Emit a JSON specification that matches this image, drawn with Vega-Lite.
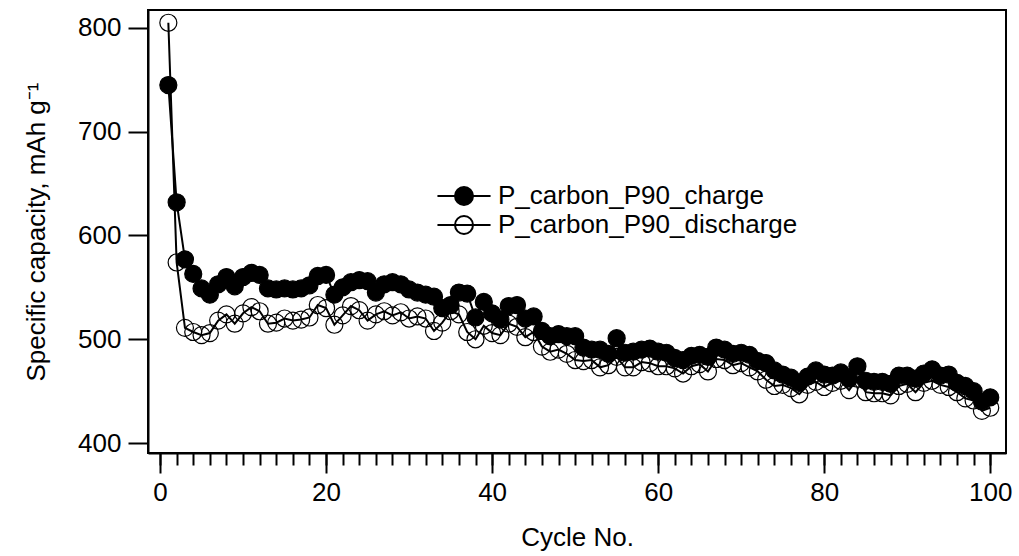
{
  "$schema": "https://vega.github.io/schema/vega-lite/v6.json",
  "width": 858,
  "height": 443,
  "autosize": {"type": "none"},
  "padding": {"left": 148, "top": 10, "right": 13, "bottom": 103},
  "background": "white",
  "config": {
    "view": {"stroke": "black", "strokeWidth": 2},
    "font": "Liberation Sans",
    "axis": {"labelFont": "Liberation Sans", "titleFont": "Liberation Sans", "labelFontSize": 26, "titleFontSize": 26, "labelColor": "black", "titleColor": "black", "titleFontWeight": "normal", "domainColor": "black", "domainWidth": 2, "tickColor": "black", "tickWidth": 2, "grid": false}
  },
  "datasets": {
    "cap": [
      {"cycle":1,"series":"P_carbon_P90_discharge","cap":805},{"cycle":2,"series":"P_carbon_P90_discharge","cap":574},{"cycle":3,"series":"P_carbon_P90_discharge","cap":511},{"cycle":4,"series":"P_carbon_P90_discharge","cap":507},{"cycle":5,"series":"P_carbon_P90_discharge","cap":504},{"cycle":6,"series":"P_carbon_P90_discharge","cap":506},{"cycle":7,"series":"P_carbon_P90_discharge","cap":518},{"cycle":8,"series":"P_carbon_P90_discharge","cap":524},{"cycle":9,"series":"P_carbon_P90_discharge","cap":515},{"cycle":10,"series":"P_carbon_P90_discharge","cap":525},
      {"cycle":11,"series":"P_carbon_P90_discharge","cap":531},{"cycle":12,"series":"P_carbon_P90_discharge","cap":527},{"cycle":13,"series":"P_carbon_P90_discharge","cap":515},{"cycle":14,"series":"P_carbon_P90_discharge","cap":516},{"cycle":15,"series":"P_carbon_P90_discharge","cap":520},{"cycle":16,"series":"P_carbon_P90_discharge","cap":518},{"cycle":17,"series":"P_carbon_P90_discharge","cap":519},{"cycle":18,"series":"P_carbon_P90_discharge","cap":521},{"cycle":19,"series":"P_carbon_P90_discharge","cap":533},{"cycle":20,"series":"P_carbon_P90_discharge","cap":530},
      {"cycle":21,"series":"P_carbon_P90_discharge","cap":514},{"cycle":22,"series":"P_carbon_P90_discharge","cap":523},{"cycle":23,"series":"P_carbon_P90_discharge","cap":532},{"cycle":24,"series":"P_carbon_P90_discharge","cap":528},{"cycle":25,"series":"P_carbon_P90_discharge","cap":518},{"cycle":26,"series":"P_carbon_P90_discharge","cap":524},{"cycle":27,"series":"P_carbon_P90_discharge","cap":527},{"cycle":28,"series":"P_carbon_P90_discharge","cap":523},{"cycle":29,"series":"P_carbon_P90_discharge","cap":526},{"cycle":30,"series":"P_carbon_P90_discharge","cap":520},
      {"cycle":31,"series":"P_carbon_P90_discharge","cap":522},{"cycle":32,"series":"P_carbon_P90_discharge","cap":520},{"cycle":33,"series":"P_carbon_P90_discharge","cap":508},{"cycle":34,"series":"P_carbon_P90_discharge","cap":516},{"cycle":35,"series":"P_carbon_P90_discharge","cap":527},{"cycle":36,"series":"P_carbon_P90_discharge","cap":524},{"cycle":37,"series":"P_carbon_P90_discharge","cap":507},{"cycle":38,"series":"P_carbon_P90_discharge","cap":500},{"cycle":39,"series":"P_carbon_P90_discharge","cap":513},{"cycle":40,"series":"P_carbon_P90_discharge","cap":506},
      {"cycle":41,"series":"P_carbon_P90_discharge","cap":504},{"cycle":42,"series":"P_carbon_P90_discharge","cap":515},{"cycle":43,"series":"P_carbon_P90_discharge","cap":512},{"cycle":44,"series":"P_carbon_P90_discharge","cap":502},{"cycle":45,"series":"P_carbon_P90_discharge","cap":507},{"cycle":46,"series":"P_carbon_P90_discharge","cap":493},{"cycle":47,"series":"P_carbon_P90_discharge","cap":488},{"cycle":48,"series":"P_carbon_P90_discharge","cap":490},{"cycle":49,"series":"P_carbon_P90_discharge","cap":486},{"cycle":50,"series":"P_carbon_P90_discharge","cap":480},
      {"cycle":51,"series":"P_carbon_P90_discharge","cap":479},{"cycle":52,"series":"P_carbon_P90_discharge","cap":480},{"cycle":53,"series":"P_carbon_P90_discharge","cap":473},{"cycle":54,"series":"P_carbon_P90_discharge","cap":475},{"cycle":55,"series":"P_carbon_P90_discharge","cap":483},{"cycle":56,"series":"P_carbon_P90_discharge","cap":473},{"cycle":57,"series":"P_carbon_P90_discharge","cap":473},{"cycle":58,"series":"P_carbon_P90_discharge","cap":478},{"cycle":59,"series":"P_carbon_P90_discharge","cap":477},{"cycle":60,"series":"P_carbon_P90_discharge","cap":474},
      {"cycle":61,"series":"P_carbon_P90_discharge","cap":474},{"cycle":62,"series":"P_carbon_P90_discharge","cap":472},{"cycle":63,"series":"P_carbon_P90_discharge","cap":467},{"cycle":64,"series":"P_carbon_P90_discharge","cap":474},{"cycle":65,"series":"P_carbon_P90_discharge","cap":476},{"cycle":66,"series":"P_carbon_P90_discharge","cap":469},{"cycle":67,"series":"P_carbon_P90_discharge","cap":481},{"cycle":68,"series":"P_carbon_P90_discharge","cap":480},{"cycle":69,"series":"P_carbon_P90_discharge","cap":475},{"cycle":70,"series":"P_carbon_P90_discharge","cap":477},
      {"cycle":71,"series":"P_carbon_P90_discharge","cap":473},{"cycle":72,"series":"P_carbon_P90_discharge","cap":469},{"cycle":73,"series":"P_carbon_P90_discharge","cap":461},{"cycle":74,"series":"P_carbon_P90_discharge","cap":455},{"cycle":75,"series":"P_carbon_P90_discharge","cap":456},{"cycle":76,"series":"P_carbon_P90_discharge","cap":453},{"cycle":77,"series":"P_carbon_P90_discharge","cap":447},{"cycle":78,"series":"P_carbon_P90_discharge","cap":456},{"cycle":79,"series":"P_carbon_P90_discharge","cap":459},{"cycle":80,"series":"P_carbon_P90_discharge","cap":454},
      {"cycle":81,"series":"P_carbon_P90_discharge","cap":458},{"cycle":82,"series":"P_carbon_P90_discharge","cap":460},{"cycle":83,"series":"P_carbon_P90_discharge","cap":451},{"cycle":84,"series":"P_carbon_P90_discharge","cap":462},{"cycle":85,"series":"P_carbon_P90_discharge","cap":449},{"cycle":86,"series":"P_carbon_P90_discharge","cap":448},{"cycle":87,"series":"P_carbon_P90_discharge","cap":448},{"cycle":88,"series":"P_carbon_P90_discharge","cap":446},{"cycle":89,"series":"P_carbon_P90_discharge","cap":455},{"cycle":90,"series":"P_carbon_P90_discharge","cap":457},
      {"cycle":91,"series":"P_carbon_P90_discharge","cap":449},{"cycle":92,"series":"P_carbon_P90_discharge","cap":458},{"cycle":93,"series":"P_carbon_P90_discharge","cap":460},{"cycle":94,"series":"P_carbon_P90_discharge","cap":456},{"cycle":95,"series":"P_carbon_P90_discharge","cap":454},{"cycle":96,"series":"P_carbon_P90_discharge","cap":449},{"cycle":97,"series":"P_carbon_P90_discharge","cap":443},{"cycle":98,"series":"P_carbon_P90_discharge","cap":441},{"cycle":99,"series":"P_carbon_P90_discharge","cap":431},{"cycle":100,"series":"P_carbon_P90_discharge","cap":434},
      {"cycle":1,"series":"P_carbon_P90_charge","cap":745},{"cycle":2,"series":"P_carbon_P90_charge","cap":632},{"cycle":3,"series":"P_carbon_P90_charge","cap":577},{"cycle":4,"series":"P_carbon_P90_charge","cap":563},{"cycle":5,"series":"P_carbon_P90_charge","cap":549},{"cycle":6,"series":"P_carbon_P90_charge","cap":543},{"cycle":7,"series":"P_carbon_P90_charge","cap":553},{"cycle":8,"series":"P_carbon_P90_charge","cap":560},{"cycle":9,"series":"P_carbon_P90_charge","cap":551},{"cycle":10,"series":"P_carbon_P90_charge","cap":560},
      {"cycle":11,"series":"P_carbon_P90_charge","cap":564},{"cycle":12,"series":"P_carbon_P90_charge","cap":562},{"cycle":13,"series":"P_carbon_P90_charge","cap":549},{"cycle":14,"series":"P_carbon_P90_charge","cap":548},{"cycle":15,"series":"P_carbon_P90_charge","cap":549},{"cycle":16,"series":"P_carbon_P90_charge","cap":548},{"cycle":17,"series":"P_carbon_P90_charge","cap":549},{"cycle":18,"series":"P_carbon_P90_charge","cap":552},{"cycle":19,"series":"P_carbon_P90_charge","cap":561},{"cycle":20,"series":"P_carbon_P90_charge","cap":562},
      {"cycle":21,"series":"P_carbon_P90_charge","cap":543},{"cycle":22,"series":"P_carbon_P90_charge","cap":550},{"cycle":23,"series":"P_carbon_P90_charge","cap":555},{"cycle":24,"series":"P_carbon_P90_charge","cap":557},{"cycle":25,"series":"P_carbon_P90_charge","cap":556},{"cycle":26,"series":"P_carbon_P90_charge","cap":545},{"cycle":27,"series":"P_carbon_P90_charge","cap":553},{"cycle":28,"series":"P_carbon_P90_charge","cap":555},{"cycle":29,"series":"P_carbon_P90_charge","cap":553},{"cycle":30,"series":"P_carbon_P90_charge","cap":548},
      {"cycle":31,"series":"P_carbon_P90_charge","cap":545},{"cycle":32,"series":"P_carbon_P90_charge","cap":543},{"cycle":33,"series":"P_carbon_P90_charge","cap":541},{"cycle":34,"series":"P_carbon_P90_charge","cap":530},{"cycle":35,"series":"P_carbon_P90_charge","cap":533},{"cycle":36,"series":"P_carbon_P90_charge","cap":545},{"cycle":37,"series":"P_carbon_P90_charge","cap":544},{"cycle":38,"series":"P_carbon_P90_charge","cap":521},{"cycle":39,"series":"P_carbon_P90_charge","cap":536},{"cycle":40,"series":"P_carbon_P90_charge","cap":525},
      {"cycle":41,"series":"P_carbon_P90_charge","cap":519},{"cycle":42,"series":"P_carbon_P90_charge","cap":532},{"cycle":43,"series":"P_carbon_P90_charge","cap":533},{"cycle":44,"series":"P_carbon_P90_charge","cap":520},{"cycle":45,"series":"P_carbon_P90_charge","cap":522},{"cycle":46,"series":"P_carbon_P90_charge","cap":508},{"cycle":47,"series":"P_carbon_P90_charge","cap":503},{"cycle":48,"series":"P_carbon_P90_charge","cap":505},{"cycle":49,"series":"P_carbon_P90_charge","cap":503},{"cycle":50,"series":"P_carbon_P90_charge","cap":503},
      {"cycle":51,"series":"P_carbon_P90_charge","cap":492},{"cycle":52,"series":"P_carbon_P90_charge","cap":490},{"cycle":53,"series":"P_carbon_P90_charge","cap":490},{"cycle":54,"series":"P_carbon_P90_charge","cap":486},{"cycle":55,"series":"P_carbon_P90_charge","cap":501},{"cycle":56,"series":"P_carbon_P90_charge","cap":487},{"cycle":57,"series":"P_carbon_P90_charge","cap":488},{"cycle":58,"series":"P_carbon_P90_charge","cap":490},{"cycle":59,"series":"P_carbon_P90_charge","cap":491},{"cycle":60,"series":"P_carbon_P90_charge","cap":488},
      {"cycle":61,"series":"P_carbon_P90_charge","cap":487},{"cycle":62,"series":"P_carbon_P90_charge","cap":482},{"cycle":63,"series":"P_carbon_P90_charge","cap":480},{"cycle":64,"series":"P_carbon_P90_charge","cap":484},{"cycle":65,"series":"P_carbon_P90_charge","cap":485},{"cycle":66,"series":"P_carbon_P90_charge","cap":483},{"cycle":67,"series":"P_carbon_P90_charge","cap":492},{"cycle":68,"series":"P_carbon_P90_charge","cap":490},{"cycle":69,"series":"P_carbon_P90_charge","cap":486},{"cycle":70,"series":"P_carbon_P90_charge","cap":487},
      {"cycle":71,"series":"P_carbon_P90_charge","cap":485},{"cycle":72,"series":"P_carbon_P90_charge","cap":479},{"cycle":73,"series":"P_carbon_P90_charge","cap":477},{"cycle":74,"series":"P_carbon_P90_charge","cap":470},{"cycle":75,"series":"P_carbon_P90_charge","cap":466},{"cycle":76,"series":"P_carbon_P90_charge","cap":463},{"cycle":77,"series":"P_carbon_P90_charge","cap":458},{"cycle":78,"series":"P_carbon_P90_charge","cap":464},{"cycle":79,"series":"P_carbon_P90_charge","cap":470},{"cycle":80,"series":"P_carbon_P90_charge","cap":466},
      {"cycle":81,"series":"P_carbon_P90_charge","cap":465},{"cycle":82,"series":"P_carbon_P90_charge","cap":468},{"cycle":83,"series":"P_carbon_P90_charge","cap":462},{"cycle":84,"series":"P_carbon_P90_charge","cap":474},{"cycle":85,"series":"P_carbon_P90_charge","cap":460},{"cycle":86,"series":"P_carbon_P90_charge","cap":459},{"cycle":87,"series":"P_carbon_P90_charge","cap":459},{"cycle":88,"series":"P_carbon_P90_charge","cap":457},{"cycle":89,"series":"P_carbon_P90_charge","cap":465},{"cycle":90,"series":"P_carbon_P90_charge","cap":465},
      {"cycle":91,"series":"P_carbon_P90_charge","cap":462},{"cycle":92,"series":"P_carbon_P90_charge","cap":467},{"cycle":93,"series":"P_carbon_P90_charge","cap":471},{"cycle":94,"series":"P_carbon_P90_charge","cap":465},{"cycle":95,"series":"P_carbon_P90_charge","cap":466},{"cycle":96,"series":"P_carbon_P90_charge","cap":458},{"cycle":97,"series":"P_carbon_P90_charge","cap":455},{"cycle":98,"series":"P_carbon_P90_charge","cap":450},{"cycle":99,"series":"P_carbon_P90_charge","cap":440},{"cycle":100,"series":"P_carbon_P90_charge","cap":444}
    ]
  },
  "data": {"name": "cap"},
  "layer": [
    {
      "mark": {"type": "line", "stroke": "black", "strokeWidth": 2},
      "encoding": {
        "x": {"field": "cycle", "type": "quantitative", "scale": {"domain": [-1.45, 101.9], "nice": false, "zero": false},
          "axis": {"orient": "bottom", "values": [0, 20, 40, 60, 80, 100], "title": "Cycle No.", "tickSize": 20, "labelPadding": 6, "titlePadding": 19, "labelFlush": false}},
        "y": {"field": "cap", "type": "quantitative", "scale": {"domain": [390.4, 817.3], "nice": false, "zero": false},
          "axis": {"values": [400, 500, 600, 700, 800], "title": "Specific capacity, mAh g⁻¹", "tickSize": 20, "labelPadding": 7, "titlePadding": 28, "labelFlush": false}},
        "detail": {"field": "series", "type": "nominal"}
      }
    },
    {
      "mark": {"type": "point", "shape": "circle", "filled": true, "stroke": "black", "strokeWidth": 1.2, "size": 290, "opacity": 1},
      "encoding": {
        "x": {"field": "cycle", "type": "quantitative",
          "axis": {"orient": "bottom", "values": [0,2,4,6,8,10,12,14,16,18,20,22,24,26,28,30,32,34,36,38,40,42,44,46,48,50,52,54,56,58,60,62,64,66,68,70,72,74,76,78,80,82,84,86,88,90,92,94,96,98,100], "labels": false, "title": null, "tickSize": 12, "domain": false}},
        "y": {"field": "cap", "type": "quantitative"},
        "fill": {"field": "series", "type": "nominal",
          "scale": {"domain": ["P_carbon_P90_charge", "P_carbon_P90_discharge"], "range": ["#000000", "rgba(255,255,255,0)"]},
          "legend": {"title": null, "orient": "none", "legendX": 300, "legendY": 170, "padding": 0,
            "symbolType": "M-1.77,0L1.77,0M0.6,0A0.6,0.6,0,1,1,-0.6,0A0.6,0.6,0,1,1,0.6,0Z",
            "symbolSize": 900, "symbolStrokeColor": "black", "symbolStrokeWidth": 2,
            "labelFontSize": 26, "labelFont": "Liberation Sans", "labelColor": "black", "labelOffset": 18, "rowPadding": 0, "labelLimit": 500}}
      }
    }
  ],
  "resolve": {"axis": {"x": "independent"}}
}
